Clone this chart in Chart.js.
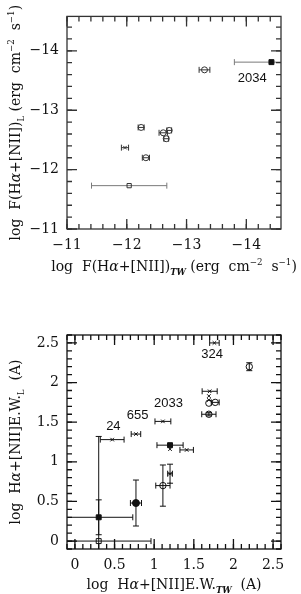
<!DOCTYPE html>
<html>
<head>
<meta charset="utf-8">
<script src="https://cdn.jsdelivr.net/npm/chart.js@4.4.1/dist/chart.umd.min.js"></script>
<style>
  html, body { margin: 0; padding: 0; background: #fff; }
  .panel { position: absolute; left: 0; width: 301px; }
  #top { top: 0; height: 300px; }
  #bottom { top: 300px; height: 294px; }
</style>
</head>
<body>
<div class="panel" id="top"><canvas id="fluxChart" width="301" height="300"></canvas></div>
<div class="panel" id="bottom"><canvas id="ewChart" width="301" height="294"></canvas></div>
<script>
// ---- top panel: log F(Ha+[NII]), this work (TW) vs literature (L)
const fluxTicks = [-14, -13, -12, -11];
const fluxCircleX = [-13.3, -12.24, -12.61, -12.71, -12.66, -12.32];
const fluxCircleY = [-13.68, -12.71, -12.62, -12.66, -12.52, -12.2];
const fluxCircleXErr = [0.09, 0.05, 0.07, 0.04, 0.04, 0.06];
const fluxCrossX = [-11.97];
const fluxCrossY = [-12.37];
const fluxCrossXErr = [0.06];
const fluxFilledSqX = [-14.42];
const fluxFilledSqY = [-13.81];
const fluxFilledSqXErr = [0.62];
const fluxOpenSqX = [-12.04];
const fluxOpenSqY = [-11.73];
const fluxOpenSqXErr = [0.63];
const fluxLabels = ["2034"];
const fluxLabelX = [-14.1];
const fluxLabelY = [-13.54];

// ---- bottom panel: log Ha+[NII] E.W.
const ewTicks = [0, 0.5, 1, 1.5, 2, 2.5];
const ewCrossX = [1.76, 1.70, 1.69, 1.69, 1.11, 0.77, 0.47, 1.2, 1.41, 1.2];
const ewCrossY = [2.5, 1.89, 1.83, 1.78, 1.51, 1.35, 1.28, 1.16, 1.15, 0.85];
const ewCrossXErr = [0.06, 0.095, 0, 0, 0.1, 0.06, 0.15, 0, 0.085, 0.03];
const ewCrossYErr = [0, 0, 0, 0, 0, 0, 0, 0, 0, 0.12];
const ewCircleX = [2.2, 1.69, 1.77, 1.69, 1.11];
const ewCircleY = [2.2, 1.74, 1.75, 1.6, 0.7];
const ewCircleXErr = [0, 0, 0.05, 0.09, 0.09];
const ewCircleYErr = [0.05, 0, 0, 0.02, 0.26];
const ewFilledSqX = [1.2, 0.3];
const ewFilledSqY = [1.21, 0.3];
const ewFilledSqXErr = [0.165, 0.43];
const ewFilledSqYErrLo = [0, 0.22];
const ewFilledSqYErrHi = [0, 1.02];
const ewFilledCircleX = [0.77];
const ewFilledCircleY = [0.48];
const ewFilledCircleXErr = [0.07];
const ewFilledCircleYErr = [0.29];
const ewOpenSqX = [0.3];
const ewOpenSqY = [0];
const ewOpenSqXErr = [0.66];
const ewOpenSqYErr = [0.52];
const ewLabels = ["324", "2033", "655", "24"];
const ewLabelX = [1.73, 1.18, 0.79, 0.485];
const ewLabelY = [2.35, 1.74, 1.59, 1.45];

const SERIF = '"DejaVu Serif", serif';

function pts(xs, ys) {
  return xs.map((x, i) => ({ x: x, y: ys[i] }));
}

function fmt(v) {
  return String(v).replace('-', '\u2212');
}

function series(xs, ys, style, err) {
  return Object.assign({
    data: pts(xs, ys),
    pointBorderWidth: 1,
    pointHoverRadius: 0
  }, style, err);
}

function axis(min, max, ticks, reverse, size) {
  return {
    type: 'linear', min: min, max: max, reverse: reverse,
    grid: { display: false, drawTicks: false },
    border: { display: false },
    afterBuildTicks: s => { s.ticks = ticks.map(v => ({ value: v })); },
    afterFit: s => { if (s.isHorizontal()) s.height = size; else s.width = size; },
    ticks: {
      autoSkip: false, maxRotation: 0, padding: 8, color: '#111',
      font: { family: SERIF, size: 14 },
      callback: v => fmt(v)
    }
  };
}

// error bars, drawn from the dataset arrays through the chart scales
const errorBars = {
  id: 'errorBars',
  beforeDatasetsDraw(chart) {
    const ctx = chart.ctx, xs = chart.scales.x, ys = chart.scales.y, a = chart.chartArea;
    ctx.save();
    ctx.beginPath();
    ctx.rect(a.left, a.top, a.right - a.left, a.bottom - a.top);
    ctx.clip();
    chart.data.datasets.forEach(ds => {
      ctx.strokeStyle = ds.barColor || '#111';
      ctx.lineWidth = 1;
      ds.data.forEach((p, i) => {
        const px = xs.getPixelForValue(p.x), py = ys.getPixelForValue(p.y);
        const xe = ds.xErr ? ds.xErr[i] : 0;
        const lo = ds.yErrLo ? ds.yErrLo[i] : (ds.yErr ? ds.yErr[i] : 0);
        const hi = ds.yErrHi ? ds.yErrHi[i] : (ds.yErr ? ds.yErr[i] : 0);
        ctx.beginPath();
        if (xe) {
          const x1 = xs.getPixelForValue(p.x - xe), x2 = xs.getPixelForValue(p.x + xe);
          ctx.moveTo(x1, py); ctx.lineTo(x2, py);
          ctx.moveTo(x1, py - 3); ctx.lineTo(x1, py + 3);
          ctx.moveTo(x2, py - 3); ctx.lineTo(x2, py + 3);
        }
        if (lo || hi) {
          const y1 = ys.getPixelForValue(p.y - lo), y2 = ys.getPixelForValue(p.y + hi);
          ctx.moveTo(px, y1); ctx.lineTo(px, y2);
          if (lo) { ctx.moveTo(px - 3, y1); ctx.lineTo(px + 3, y1); }
          if (hi) { ctx.moveTo(px - 3, y2); ctx.lineTo(px + 3, y2); }
        }
        ctx.stroke();
      });
    });
    ctx.restore();
  }
};

// box round the plot with inward ticks on all four sides
function framePlugin(major, minorStep, min, max, color) {
  const minor = [];
  for (let v = Math.ceil(min / minorStep - 1e-6) * minorStep; v <= max + 1e-6; v += minorStep) minor.push(v);
  return {
    id: 'frame',
    afterDraw(chart) {
      const ctx = chart.ctx, xs = chart.scales.x, ys = chart.scales.y, a = chart.chartArea;
      const draw = (vals, len) => {
        vals.forEach(v => {
          const px = xs.getPixelForValue(v);
          const py = ys.getPixelForValue(v);
          ctx.beginPath();
          ctx.moveTo(px, a.bottom); ctx.lineTo(px, a.bottom - len);
          ctx.moveTo(px, a.top); ctx.lineTo(px, a.top + len);
          ctx.moveTo(a.left, py); ctx.lineTo(a.left + len, py);
          ctx.moveTo(a.right, py); ctx.lineTo(a.right - len, py);
          ctx.stroke();
        });
      };
      ctx.save();
      ctx.strokeStyle = color;
      ctx.lineWidth = 1.3;
      draw(minor, 5);
      draw(major, 10);
      ctx.lineWidth = 1.3;
      ctx.strokeRect(a.left, a.top, a.right - a.left, a.bottom - a.top);
      ctx.restore();
    }
  };
}

function richText(ctx, parts, cx, cy, size, rotate) {
  ctx.save();
  ctx.translate(cx, cy);
  if (rotate) ctx.rotate(-Math.PI / 2);
  const fontOf = p => (p.style || '') + ' ' + (size * (p.scale || 1)).toFixed(1) + 'px ' + SERIF;
  let w = 0;
  parts.forEach(p => { ctx.font = fontOf(p); w += ctx.measureText(p.t).width; });
  let x = -w / 2;
  ctx.textAlign = 'left';
  ctx.textBaseline = 'alphabetic';
  parts.forEach(p => {
    ctx.font = fontOf(p);
    ctx.fillText(p.t, x, size * 0.36 + (p.dy || 0) * size);
    x += ctx.measureText(p.t).width;
  });
  ctx.restore();
}

function titlesPlugin(xParts, xPos, yParts, yPos, labels, lx, ly, color) {
  return {
    id: 'titles',
    afterDraw(chart) {
      const ctx = chart.ctx, a = chart.chartArea, xs = chart.scales.x, ys = chart.scales.y;
      ctx.fillStyle = color;
      richText(ctx, xParts, (a.left + a.right) / 2, xPos, 14, false);
      richText(ctx, yParts, yPos, (a.top + a.bottom) / 2, 14, true);
      ctx.save();
      ctx.font = '13px "Liberation Sans", Arial, sans-serif';
      ctx.textAlign = 'center';
      ctx.textBaseline = 'middle';
      labels.forEach((t, i) => ctx.fillText(t, xs.getPixelForValue(lx[i]), ys.getPixelForValue(ly[i])));
      ctx.restore();
    }
  };
}

const SUP = { scale: 0.62, dy: -0.45 };
const SUB = { scale: 0.6, dy: 0.3, style: 'italic bold' };
const unitsParts = [
  { t: ' (erg  cm' }, Object.assign({ t: '\u22122' }, SUP),
  { t: '  s' }, Object.assign({ t: '\u22121' }, SUP), { t: ')' }
];

Chart.defaults.animation = false;

// top chart
const fluxDark = '#333', fluxGrey = '#7a7a7a';
new Chart(document.getElementById('fluxChart').getContext('2d'), {
  type: 'scatter',
  data: {
    datasets: [
      series(fluxCircleX, fluxCircleY,
        { pointStyle: 'circle', pointRadius: 3, pointBorderColor: fluxDark, pointBackgroundColor: 'transparent', barColor: fluxDark },
        { xErr: fluxCircleXErr }),
      series(fluxCrossX, fluxCrossY,
        { pointStyle: 'crossRot', pointRadius: 2.5, pointBorderColor: fluxDark, barColor: fluxDark },
        { xErr: fluxCrossXErr }),
      series(fluxOpenSqX, fluxOpenSqY,
        { pointStyle: 'rect', pointRadius: 3, pointBorderColor: fluxDark, pointBackgroundColor: 'transparent', barColor: fluxGrey },
        { xErr: fluxOpenSqXErr }),
      series(fluxFilledSqX, fluxFilledSqY,
        { pointStyle: 'rect', pointRadius: 3.5, pointBorderColor: '#111', pointBackgroundColor: '#111', barColor: fluxGrey },
        { xErr: fluxFilledSqXErr })
    ]
  },
  options: {
    responsive: false,
    layout: { padding: { top: 16, right: 20, left: 0, bottom: 0 } },
    plugins: { legend: { display: false }, tooltip: { enabled: false } },
    scales: {
      x: axis(-14.58, -11, fluxTicks, true, 71),
      y: axis(-14.58, -11, fluxTicks, true, 67)
    }
  },
  plugins: [
    errorBars,
    framePlugin(fluxTicks, 0.2, -14.58, -11, fluxDark),
    titlesPlugin(
      [{ t: 'log  F(H' }, { t: '\u03b1', style: 'italic' }, { t: '+[NII])' }, Object.assign({ t: 'TW' }, SUB)].concat(unitsParts),
      266,
      [{ t: 'log  F(H' }, { t: '\u03b1', style: 'italic' }, { t: '+[NII])' }, Object.assign({ t: 'L' }, SUB, { style: '' })].concat(unitsParts),
      15,
      fluxLabels, fluxLabelX, fluxLabelY, '#111')
  ]
});

// bottom chart
const ink = '#111';
new Chart(document.getElementById('ewChart').getContext('2d'), {
  type: 'scatter',
  data: {
    datasets: [
      series(ewCrossX, ewCrossY,
        { pointStyle: 'crossRot', pointRadius: 2.5, pointBorderColor: ink, barColor: ink },
        { xErr: ewCrossXErr, yErr: ewCrossYErr }),
      series(ewCircleX, ewCircleY,
        { pointStyle: 'circle', pointRadius: 3.2, pointBorderColor: ink, pointBackgroundColor: 'transparent', barColor: ink },
        { xErr: ewCircleXErr, yErr: ewCircleYErr }),
      series(ewFilledSqX, ewFilledSqY,
        { pointStyle: 'rect', pointRadius: 3.5, pointBorderColor: ink, pointBackgroundColor: ink, barColor: ink },
        { xErr: ewFilledSqXErr, yErrLo: ewFilledSqYErrLo, yErrHi: ewFilledSqYErrHi }),
      series(ewFilledCircleX, ewFilledCircleY,
        { pointStyle: 'circle', pointRadius: 3.5, pointBorderColor: ink, pointBackgroundColor: ink, barColor: ink },
        { xErr: ewFilledCircleXErr, yErr: ewFilledCircleYErr }),
      series(ewOpenSqX, ewOpenSqY,
        { pointStyle: 'rect', pointRadius: 3.5, pointBorderColor: ink, pointBackgroundColor: 'transparent', barColor: ink },
        { xErr: ewOpenSqXErr, yErr: ewOpenSqYErr })
    ]
  },
  options: {
    responsive: false,
    layout: { padding: { top: 35, right: 20, left: 0, bottom: 0 } },
    plugins: { legend: { display: false }, tooltip: { enabled: false } },
    scales: {
      x: axis(-0.1, 2.6, ewTicks, false, 45),
      y: axis(-0.1, 2.6, ewTicks, false, 67)
    }
  },
  plugins: [
    errorBars,
    framePlugin(ewTicks, 0.1, -0.1, 2.6, ink),
    titlesPlugin(
      [{ t: 'log  H' }, { t: '\u03b1', style: 'italic' }, { t: '+[NII]E.W.' }, Object.assign({ t: 'TW' }, SUB), { t: '  (A)' }],
      284,
      [{ t: 'log  H' }, { t: '\u03b1', style: 'italic' }, { t: '+[NII]E.W.' }, Object.assign({ t: 'L' }, SUB, { style: '' }), { t: '  (A)' }],
      15,
      ewLabels, ewLabelX, ewLabelY, ink)
  ]
});
</script>
</body>
</html>
